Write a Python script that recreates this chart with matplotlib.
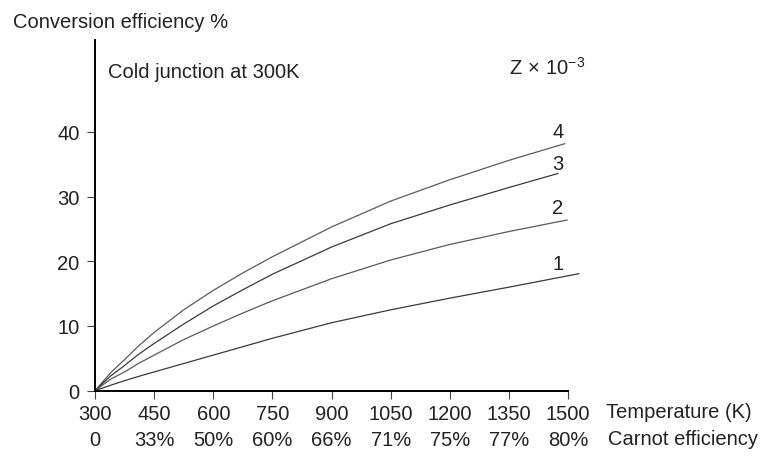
import matplotlib
matplotlib.use("Agg")
import matplotlib.pyplot as plt

plt.rcParams['font.family'] = ['Liberation Sans', 'DejaVu Sans']
plt.rcParams['mathtext.fontset'] = 'custom'
plt.rcParams['mathtext.rm'] = 'Liberation Sans'
plt.rcParams['mathtext.it'] = 'Liberation Sans:italic'

# Data
temp_ticks = [300, 450, 600, 750, 900, 1050, 1200, 1350, 1500]
carnot_labels = ["0", "33%", "50%", "60%", "66%", "71%", "75%", "77%", "80%"]
y_ticks = [0, 10, 20, 30, 40]

t_z4 = [300, 340, 375, 410, 450, 525, 600, 675, 750, 900, 1050, 1200, 1350, 1493]
eff_z4 = [0, 2.8, 4.8, 6.9, 9.0, 12.5, 15.5, 18.2, 20.7, 25.3, 29.3, 32.6, 35.6, 38.2]

t_z3 = [300, 340, 375, 410, 450, 525, 600, 675, 750, 900, 1050, 1200, 1350, 1476]
eff_z3 = [0, 2.3, 3.9, 5.6, 7.3, 10.3, 13.1, 15.6, 18.0, 22.2, 25.8, 28.7, 31.4, 33.6]

t_z2 = [300, 340, 375, 410, 450, 525, 600, 675, 750, 900, 1050, 1200, 1350, 1499]
eff_z2 = [0, 1.8, 2.9, 4.2, 5.5, 7.9, 10.0, 12.0, 13.9, 17.3, 20.2, 22.6, 24.6, 26.4]

t_z1 = [300, 340, 375, 410, 450, 525, 600, 675, 750, 900, 1050, 1200, 1350, 1529]
eff_z1 = [0, 0.85, 1.55, 2.2, 2.9, 4.2, 5.5, 6.8, 8.1, 10.5, 12.5, 14.3, 16.0, 18.1]

series = [("4", t_z4, eff_z4, '#5a5a5a'),
          ("3", t_z3, eff_z3, '#3a3a3a'),
          ("2", t_z2, eff_z2, '#5a5a5a'),
          ("1", t_z1, eff_z1, '#3a3a3a')]

fig = plt.figure(figsize=(7.66, 4.6), dpi=100)
ax = fig.add_axes([95 / 766, (460 - 391.7) / 460, (568 - 95) / 766, (391.7 - 41) / 460])

for name, t, e, c in series:
    ax.plot(t, e, color=c, lw=0.9, clip_on=False, solid_capstyle='butt',
            solid_joinstyle='round')

ax.set_xlim(300, 1500)
ax.set_ylim(0, 54.2)

for s in ['top', 'right']:
    ax.spines[s].set_visible(False)
for s in ['left', 'bottom']:
    ax.spines[s].set_linewidth(1.4)
    ax.spines[s].set_color('black')

ax.set_xticks(temp_ticks)
ax.set_xticklabels([str(v) for v in temp_ticks])
ax.set_yticks(y_ticks)
ax.set_yticklabels([str(v) for v in y_ticks])
ax.tick_params(axis='both', direction='out', length=6, width=0.8, color='#444444',
               labelsize=14.5, labelcolor='#222222')
ax.tick_params(axis='x', pad=3.5)
ax.tick_params(axis='y', pad=5)

# second row: Carnot efficiency
for t, lab in zip(temp_ticks, carnot_labels):
    ax.text(t, -0.138, lab, transform=ax.get_xaxis_transform(), ha='center', va='center',
            fontsize=14.5, color='#222222')

fig.text(606 / 766, 1 - 413 / 460, "Temperature (K)", ha='left', va='center',
         fontsize=14.5, color='#222222')
fig.text(608 / 766, 1 - 440 / 460, "Carnot efficiency", ha='left', va='center',
         fontsize=14.5, color='#222222')
fig.text(13 / 766, 1 - 23 / 460, "Conversion efficiency %", ha='left', va='center',
         fontsize=14.5, color='#222222')
fig.text(108 / 766, 1 - 73 / 460, "Cold junction at 300K", ha='left', va='center',
         fontsize=14.5, color='#222222')
fig.text(547 / 766, 1 - 68 / 460, r"Z$\,\times\,$10$^{\mathregular{-3}}$", ha='center', va='center',
         fontsize=14.5, color='#222222')

label_y = {"4": 133, "3": 165, "2": 208, "1": 264}
for name, t, e, c in series:
    fig.text(558 / 766, 1 - label_y[name] / 460, name, ha='center', va='center',
             fontsize=14.5, color='#222222')

fig.savefig("out.png", dpi=100)
